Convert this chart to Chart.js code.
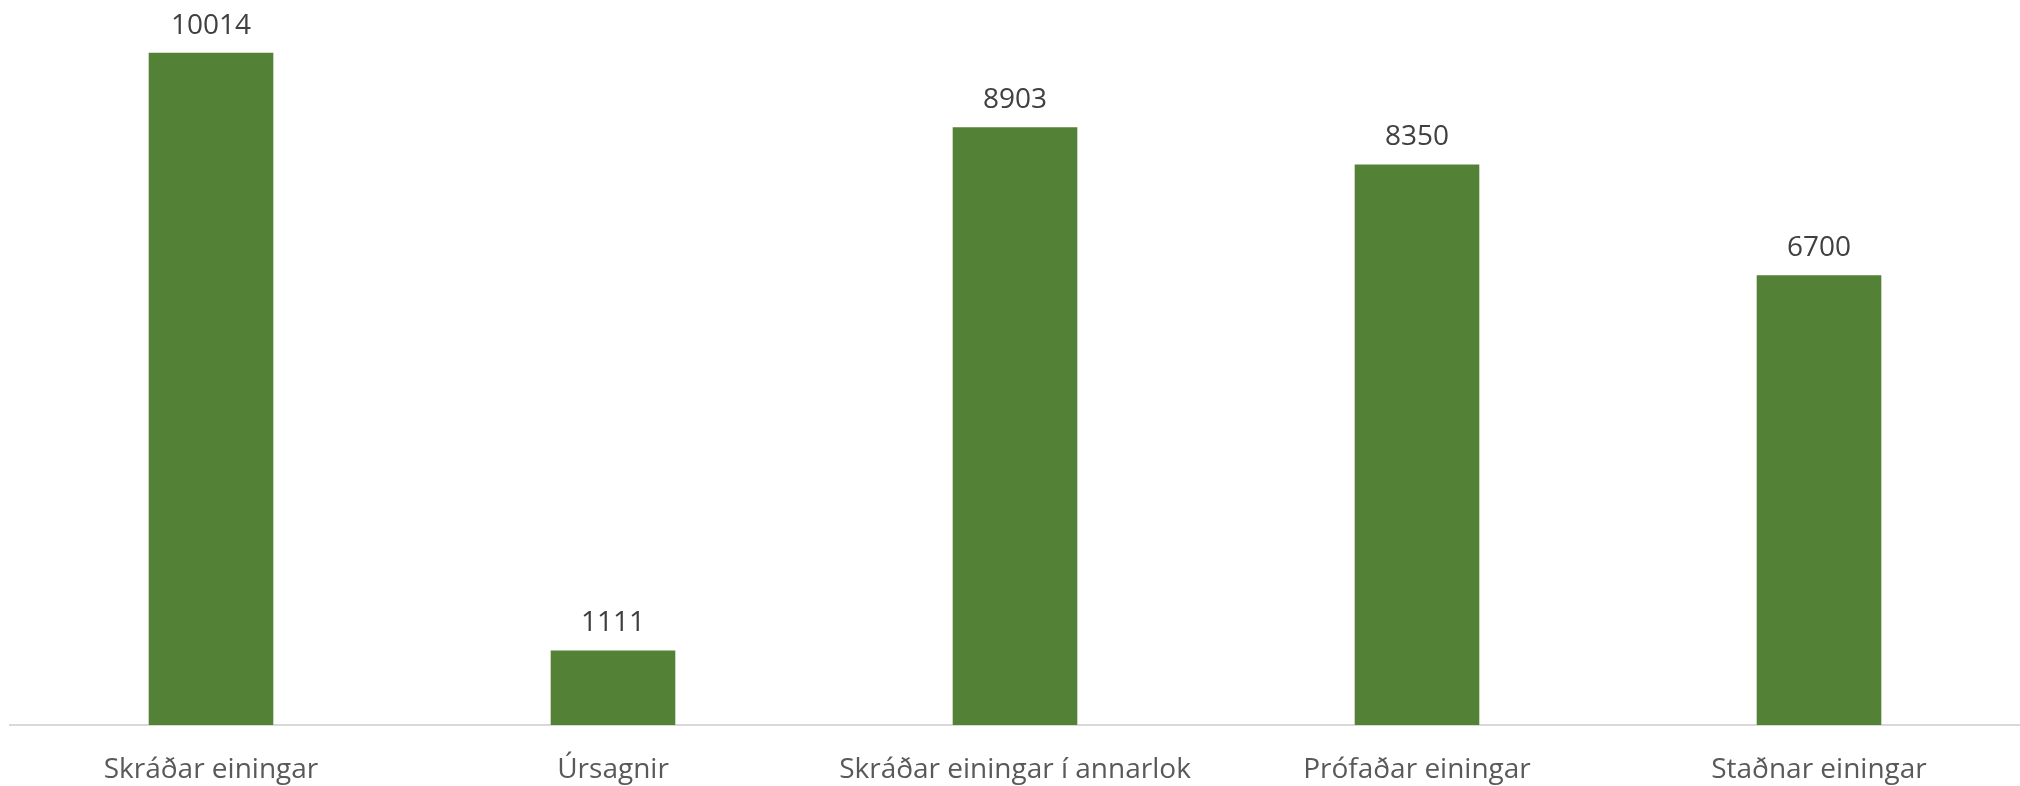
<!DOCTYPE html>
<html>
<head>
<meta charset="utf-8">
<script src="https://cdn.jsdelivr.net/npm/chart.js@4/dist/chart.umd.min.js"></script>
<style>
  html, body { margin: 0; padding: 0; background: #fff; }
  #wrap { width: 2020px; height: 786px; position: relative; }
</style>
</head>
<body>
<div id="wrap"><canvas id="myChart"></canvas></div>
<script>
var categories = ["Skráðar einingar", "Úrsagnir", "Skráðar einingar í annarlok", "Prófaðar einingar", "Staðnar einingar"];
var units = [10014, 1111, 8903, 8350, 6700];

// draws the value above each bar
var valueLabels = {
  id: "valueLabels",
  afterDatasetsDraw: function (chart) {
    var ctx = chart.ctx;
    ctx.save();
    ctx.font = "28px 'Open Sans'";
    ctx.fillStyle = "#404040";
    ctx.textAlign = "center";
    ctx.textBaseline = "middle";
    chart.getDatasetMeta(0).data.forEach(function (bar, i) {
      ctx.fillText(units[i], bar.x, bar.y - 27);
    });
    ctx.restore();
  }
};

var myChart = document.getElementById("myChart").getContext("2d");
var chart = new Chart(myChart, {
  type: "bar",
  data: {
    labels: categories,
    datasets: [
      {
        label: "Einingar",
        data: units,
        backgroundColor: "#538135",
        categoryPercentage: 1,
        barPercentage: 0.31,
      },
    ],
  },
  options: {
    responsive: true,
    maintainAspectRatio: false,
    animation: false,
    layout: { padding: { left: 10, right: 0, top: 0, bottom: 0 } },
    plugins: {
      legend: { display: false },
      tooltip: { enabled: false },
    },
    scales: {
      x: {
        grid: { display: false, drawTicks: false },
        border: { display: true, color: "#d9d9d9", width: 2 },
        ticks: {
          color: "#595959",
          font: { family: "'Open Sans'", size: 28 },
          padding: 28,
          maxRotation: 0,
          autoSkip: false,
        },
        afterFit: function (scale) {
          scale.height = 61;
        },
      },
      y: {
        display: false,
        min: 0,
        max: 10800,
      },
    },
  },
  plugins: [valueLabels],
});
</script>
</body>
</html>
